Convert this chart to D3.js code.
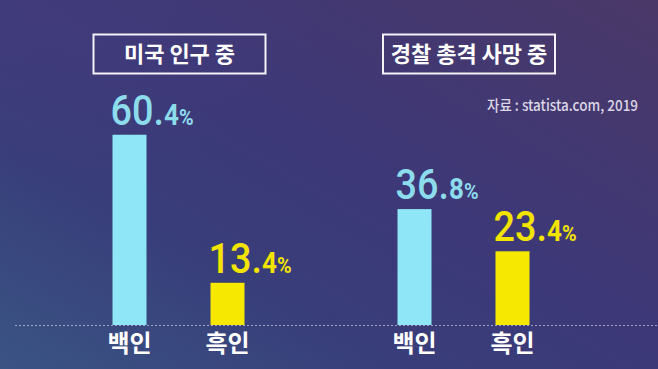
<!DOCTYPE html>
<html><head><meta charset="utf-8">
<script src="https://cdn.jsdelivr.net/npm/d3@7"></script>
<style>html,body{margin:0;padding:0;background:#3b3774;overflow:hidden}</style>
</head><body>
<svg id="chart" width="658" height="369"></svg>
<script>
const groups = ["미국 인구 중", "경찰 총격 사망 중"];
const categories = ["백인", "흑인"];
const populationShare = [60.4, 13.4];
const policeShootingDeathShare = [36.8, 23.4];
const sourceText = "자료 : statista.com, 2019";

const seriesByGroup = [populationShare, policeShootingDeathShare];
const rows = [];
groups.forEach((g, gi) => categories.forEach((c, ci) => rows.push({group: g, cat: c, value: seriesByGroup[gi][ci]})));

const W = 658, H = 369, baseY = 325;
const svg = d3.select("#chart");
const defs = svg.append("defs");

const lg = defs.append("linearGradient").attr("id","bg").attr("x1","0").attr("y1","1").attr("x2","1").attr("y2","0");
lg.append("stop").attr("offset","0").attr("stop-color","#3a5484");
lg.append("stop").attr("offset","0.3").attr("stop-color","#383e7a");
lg.append("stop").attr("offset","0.55").attr("stop-color","#3d3878");
lg.append("stop").attr("offset","1").attr("stop-color","#4a3868");
svg.append("rect").attr("width",W).attr("height",H).attr("fill","url(#bg)");
const rg = defs.append("radialGradient").attr("id","glow").attr("cx","0.05").attr("cy","0.05").attr("r","0.45");
rg.append("stop").attr("offset","0").attr("stop-color","#433c7c").attr("stop-opacity",0.7);
rg.append("stop").attr("offset","1").attr("stop-color","#433c7c").attr("stop-opacity",0);
svg.append("rect").attr("width",W).attr("height",H).attr("fill","url(#glow)");

const xGroup = d3.scalePoint().domain(groups).range([178.5, 463.5]);
const xCat = d3.scaleBand().domain(categories).range([-66, 66]).paddingInner(0.653).paddingOuter(0);
const y = d3.scaleLinear().domain([0, 100]).range([baseY, baseY - 315]);
const colors = d3.scaleOrdinal().domain(categories).range(["#8ee6f6", "#f6e800"]);
const textColors = d3.scaleOrdinal().domain(categories).range(["#8ddcec", "#f2e400"]);
const bx = d => xGroup(d.group) + xCat(d.cat);

// baseline
svg.append("line").attr("x1",15).attr("x2",W).attr("y1",baseY+0.5).attr("y2",baseY+0.5)
  .attr("stroke","#c4c2d8").attr("stroke-width",1).attr("stroke-dasharray","2,2").attr("opacity",0.75);

// bars
svg.selectAll("rect.bar").data(rows).join("rect").attr("class","bar")
  .attr("x", bx).attr("width", xCat.bandwidth())
  .attr("y", d => y(d.value)).attr("height", d => y(0) - y(d.value))
  .attr("fill", d => colors(d.cat));

// value labels (condensed digits)
const vl = svg.selectAll("text.val").data(rows).join("text").attr("class","val")
  .attr("transform", d => `translate(${bx(d) - 2},${y(d.value) - 10}) scale(0.9,1)`)
  .attr("fill", d => textColors(d.cat))
  .style("font-family","Roboto, 'Noto Sans', sans-serif").style("font-weight", 500);
vl.append("tspan").style("font-size","42px")
  .text(d => { const s = d.value.toFixed(1).split("."); return s[0] + "."; });
vl.append("tspan").style("font-size","29px").style("font-weight",700)
  .text(d => d.value.toFixed(1).split(".")[1]);
vl.append("tspan").style("font-size","22px").style("font-weight",700).text("%");

// category labels
svg.selectAll("text.cat").data(rows).join("text").attr("class","cat")
  .attr("x", d => bx(d) + xCat.bandwidth()/2).attr("y", 352)
  .attr("text-anchor","middle").attr("fill","#ffffff")
  .style("font-family","'Noto Sans CJK KR', sans-serif").style("font-weight",700).style("font-size","24px")
  .text(d => d.cat);

// group title boxes
const tg = svg.selectAll("g.title").data(groups).join("g").attr("class","title")
  .attr("transform", (g, i) => `translate(${xGroup(g) + (i ? 5.5 : 1)},54)`);
tg.append("rect").attr("x",-86).attr("y",-19.5).attr("width",172).attr("height",39)
  .attr("fill","none").attr("stroke","#f4f2f8").attr("stroke-width",2);
tg.append("text").attr("text-anchor","middle").attr("y",8).attr("fill","#ffffff")
  .style("font-family","'Noto Sans CJK KR', sans-serif").style("font-weight",700).style("font-size","22px")
  .text(d => d);

// source
svg.append("text").attr("transform","translate(487,111) scale(0.9,1)").attr("fill","#dcd6e6")
  .style("font-family","'Noto Sans CJK KR', sans-serif").style("font-weight",500).style("font-size","15px")
  .text(sourceText);
</script>
</body></html>
